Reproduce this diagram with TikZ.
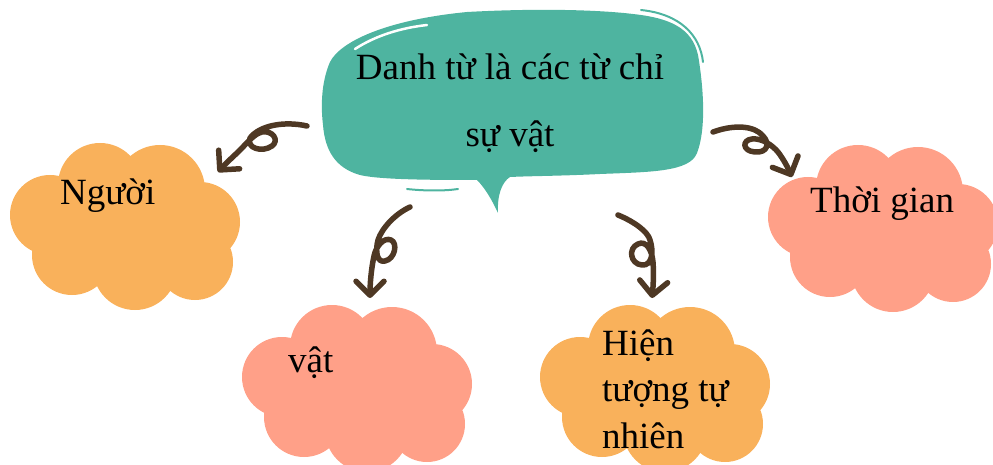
\documentclass[tikz,border=0pt]{standalone}
\usepackage{fontspec}
\setmainfont{Liberation Serif}
\usetikzlibrary{arrows.meta}
\definecolor{bubteal}{HTML}{4EB4A0}
\definecolor{cloudorange}{HTML}{F9B15B}
\definecolor{cloudsalmon}{HTML}{FFA088}
\definecolor{arrowbrown}{HTML}{4E3824}
\newcommand{\mycloud}[3]{%
  \begin{scope}[shift={(#1,#2)}]
  \fill[#3] (-25,-42) circle[radius=42pt] (35,-37) circle[radius=45pt]
    (-75,-12) circle[radius=40pt] (75,-5) circle[radius=40pt]
    (70,35) circle[radius=38pt] (10,41) circle[radius=42pt]
    (-53,28) circle[radius=40pt] (0,0) ellipse[x radius=80pt,y radius=50pt];
  \end{scope}}
\tikzset{
  arr/.style={draw=arrowbrown, line width=5.5pt, line cap=round, line join=round,
    -{Straight Barb[length=14pt,width=28pt,round]}},
  lbl/.style={inner sep=0pt, font=\fontsize{37}{44}\selectfont, text=black}
}
\begin{document}
\begin{tikzpicture}[x=1pt,y=-1pt]
\useasboundingbox (0,0) rectangle (993,465);
\begin{scope}
\clip (0,0) rectangle (993,465);
% clouds
\mycloud{125}{227}{cloudorange}
\mycloud{357}{389}{cloudsalmon}
\mycloud{655}{389}{cloudorange}
\mycloud{883}{229}{cloudsalmon}
\end{scope}
% speech bubble
\fill[bubteal] (467,12) .. controls (540,8) and (600,10) .. (633,14)
  .. controls (670,18) and (692,28) .. (698,55)
  .. controls (704,90) and (706,130) .. (697,153)
  .. controls (690,172) and (650,172) .. (600,174)
  .. controls (560,176) and (530,176) .. (510,177)
  .. controls (502,182) and (497,195) .. (498,213)
  .. controls (492,200) and (485,188) .. (477,180)
  .. controls (440,180) and (380,180) .. (360,175)
  .. controls (335,168) and (325,150) .. (323,125)
  .. controls (320,100) and (323,78) .. (330,62)
  .. controls (340,42) and (385,20) .. cycle;
\draw[white, line width=2.5pt, line cap=round] (355,49) .. controls (375,36) and (400,28) .. (427,25);
\draw[bubteal, line width=2pt, line cap=round] (641,10) .. controls (680,14) and (700,35) .. (703,62);
\draw[bubteal, line width=2pt, line cap=round] (407,189) .. controls (425,191) and (445,191) .. (458,189);
% texts
\node[lbl, anchor=base] (t1) at (510,80) {Danh từ là các từ chỉ};
\node[lbl, anchor=base] (t2) at (510,147) {sự vật};
\node[lbl, anchor=base west] (nguoi) at (60,205) {Người};
\node[lbl, anchor=base west] (vat) at (288,372) {vật};
\node[lbl, anchor=base west] (hien1) at (602,355) {Hiện};
\node[lbl, anchor=base west] (hien2) at (602,401) {tượng tự};
\node[lbl, anchor=base west] (hien3) at (602,448) {nhiên};
\node[lbl, anchor=base west] (thoigian) at (810,213) {Thời gian};
% arrow coordinates
\coordinate (s1) at (307,126); \coordinate (e1) at (218,172);
\coordinate (s2) at (410,207); \coordinate (e2) at (370,298);
\coordinate (s3) at (618,215); \coordinate (e3) at (652,298);
\coordinate (s4) at (713,132); \coordinate (e4) at (792,177);
\draw[arr] (s1) .. controls (285,121) and (260,125) .. (250,138)
  .. controls (246,148) and (262,153) .. (272,146)
  .. controls (280,140) and (272,130) .. (262,132)
  .. controls (254,134) and (248,142) .. (240,150)
  .. controls (233,157) and (226,163) .. (e1);
\draw[arr] (s2) .. controls (395,214) and (382,228) .. (378,240)
  .. controls (375,252) and (377,263) .. (385,261)
  .. controls (395,259) and (398,243) .. (391,240)
  .. controls (384,237) and (376,246) .. (374,256)
  .. controls (371,270) and (370,285) .. (e2);
\draw[arr] (s3) .. controls (635,222) and (648,232) .. (650,240)
  .. controls (654,252) and (652,266) .. (642,265)
  .. controls (630,264) and (628,248) .. (638,244)
  .. controls (646,240) and (652,250) .. (653,262)
  .. controls (654,275) and (653,288) .. (e3);
\draw[arr] (s4) .. controls (735,124) and (755,126) .. (763,136)
  .. controls (770,143) and (768,153) .. (755,152)
  .. controls (742,151) and (742,140) .. (752,139)
  .. controls (762,138) and (772,145) .. (778,152)
  .. controls (784,160) and (788,168) .. (e4);
\end{tikzpicture}
\end{document}
